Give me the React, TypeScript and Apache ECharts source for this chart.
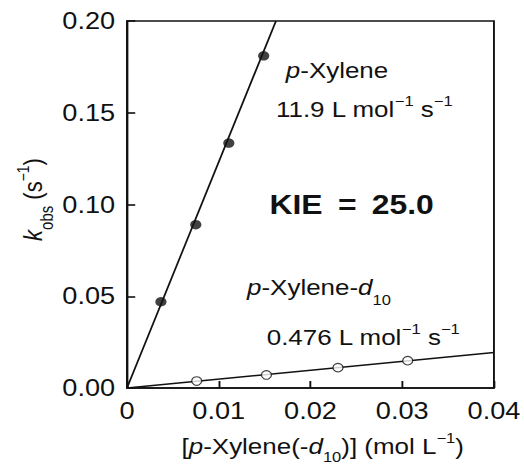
import React, { useEffect, useRef } from "react";
import * as echarts from "echarts";

// ---- data ----
const xTicksMax = 0.04;
const yTicksMax = 0.2;

// p-Xylene (filled circles)
const hX = [0.0037, 0.0075, 0.0111, 0.0149];
const hY = [0.047, 0.089, 0.1335, 0.181];
// p-Xylene-d10 (open circles)
const dX = [0.0076, 0.0152, 0.023, 0.0306];
const dY = [0.0038, 0.0071, 0.0111, 0.0149];
// fitted lines (as drawn)
const hFitX = [0, 0.01624];
const hFitY = [0, 0.2];
const dFitX = [0, 0.04];
const dFitY = [0, 0.0194];

const STRETCH = 1.18;
const W = 444;
const H = 464;
const FONT = "'Liberation Sans', Arial, Helvetica, sans-serif";
const INK = "#111";

const T = (extra: any = {}) => ({
  fontFamily: FONT,
  fontSize: 22,
  fill: INK,
  ...extra,
});

const rich = {
  n: T(),
  i: T({ fontStyle: "italic" }),
  sup: T({ fontSize: 14, padding: [0, 0, 16, 0] }),
  sub: T({ fontSize: 14, padding: [26, 0, 0, 0] }),
  subx: T({ fontSize: 14, padding: [22, 0, 0, 0] }),
  suby: T({ fontSize: 15, padding: [24, 0, 0, 0] }),
  b: T({ fontSize: 27, fontWeight: "bold" }),
  e: T({ fontSize: 27, fontWeight: "bold", padding: [0, 13, 0, 13] }),
};

const txt = (x: number, y: number, text: string, extra: any = {}) => ({
  type: "text",
  x,
  y,
  ...extra,
  style: {
    text,
    rich,
    align: "center",
    verticalAlign: "middle",
    fontFamily: FONT,
    fontSize: 22,
    fill: INK,
  },
});

const zip = (a: number[], b: number[]) => a.map((v, k) => [v, b[k]]);

export default function App() {
  const ref = useRef<HTMLDivElement>(null);
  useEffect(() => {
    if (!ref.current) return;
    const chart = echarts.init(ref.current, null, { renderer: "svg" });
    const axisLabel = {
      fontFamily: FONT,
      fontSize: 23,
      color: INK,
    };
    chart.setOption({
      animation: false,
      backgroundColor: "#fff",
      grid: {
        left: 107.6,
        right: W - 418.6,
        top: 21,
        bottom: H - 388,
        show: true,
        borderColor: INK,
        borderWidth: 1.6,
        backgroundColor: "transparent",
      },
      xAxis: {
        type: "value",
        min: 0,
        max: xTicksMax,
        interval: 0.01,
        splitLine: { show: false },
        axisLine: { lineStyle: { color: INK, width: 1.6 } },
        axisTick: { inside: true, length: 7, lineStyle: { color: INK, width: 1.6 } },
        axisLabel: {
          ...axisLabel,
          margin: 11,
          showMinLabel: true,
          showMaxLabel: true,
          formatter: (v: number) => (v === 0 ? "0" : v.toFixed(2)),
        },
      },
      yAxis: {
        type: "value",
        min: 0,
        max: yTicksMax,
        interval: 0.05,
        splitLine: { show: false },
        axisLine: { lineStyle: { color: INK, width: 1.6 } },
        axisTick: { inside: true, length: 7, lineStyle: { color: INK, width: 1.6 } },
        axisLabel: {
          ...axisLabel,
          margin: 10,
          formatter: (v: number) => v.toFixed(2),
        },
      },
      series: [
        {
          type: "line",
          data: zip(hFitX, hFitY),
          showSymbol: false,
          lineStyle: { color: INK, width: 1.5 },
          z: 2,
        },
        {
          type: "line",
          data: zip(dFitX, dFitY),
          showSymbol: false,
          lineStyle: { color: INK, width: 1.5 },
          z: 2,
        },
        {
          type: "scatter",
          data: zip(hX, hY),
          symbol: "circle",
          symbolSize: 9.5,
          itemStyle: { color: INK },
          z: 3,
        },
        {
          type: "scatter",
          data: zip(dX, dY),
          symbol: "circle",
          symbolSize: 8.5,
          itemStyle: { color: "#fff", borderColor: INK, borderWidth: 1.1 },
          z: 3,
        },
      ],
      graphic: [
        txt(285.6, 70, "{i|p}{n|-Xylene}"),
        txt(308.5, 109, "{n|11.9 L mol}{sup|−1}{n| s}{sup|−1}"),
        txt(298, 204, "{b|KIE}{e|=}{b|25.0}"),
        txt(270.3, 287, "{i|p}{n|-Xylene-}{i|d}{sub|10}"),
        txt(307.6, 337, "{n|0.476 L mol}{sup|−1}{n| s}{sup|−1}"),
        txt(273.5, 446, "{n|[}{i|p}{n|-Xylene(-}{i|d}{subx|10}{n|)] (mol L}{sup|−1}{n|)}"),
        txt(27.5, 199.5, "{i|k}{suby|obs}{n| (s}{sup|−1}{n|)}", { rotation: Math.PI / 2 }),
      ],
    });
    return () => chart.dispose();
  }, []);
  return (
    <div
      ref={ref}
      style={{
        position: "absolute",
        left: 0,
        top: 0,
        width: W,
        height: H,
        transform: `scaleX(${STRETCH})`,
        transformOrigin: "0 0",
      }}
    />
  );
}
